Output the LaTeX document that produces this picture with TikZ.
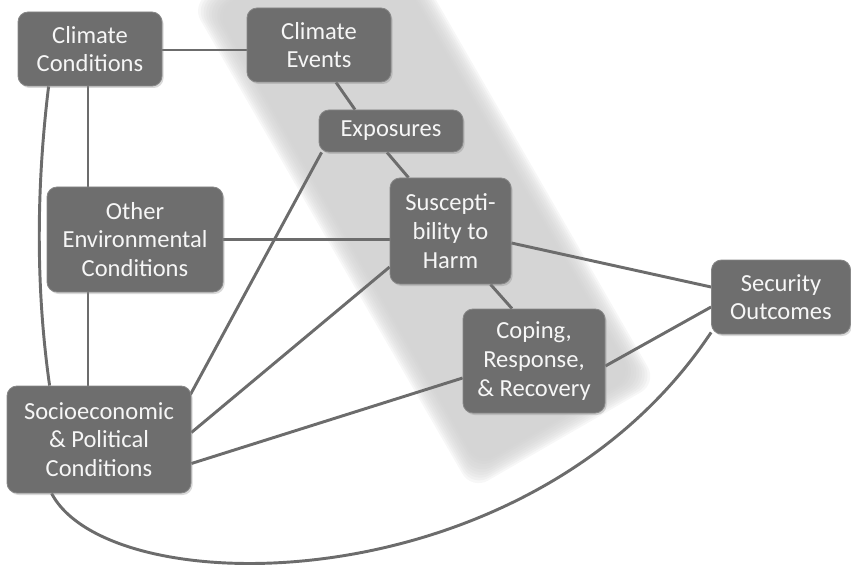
\documentclass[tikz,border=0pt]{standalone}
\usepackage{fontspec}
\setmainfont{Carlito}
\usetikzlibrary{calc,shadows}
\definecolor{boxfill}{RGB}{110,110,110}
\definecolor{boxdraw}{RGB}{135,135,135}
\definecolor{linec}{RGB}{108,108,108}
\definecolor{bandc}{RGB}{205,205,205}
\definecolor{txt}{RGB}{246,246,246}
\pgfdeclarelayer{bandlayer}
\pgfdeclarelayer{linelayer}
\pgfsetlayers{bandlayer,linelayer,main}
\begin{document}
\begin{tikzpicture}[x=0.75pt,y=-0.75pt,
  box/.style={rounded corners=7.5pt, fill=boxfill, draw=boxdraw, line width=0.6pt,
    text=txt, align=center, inner sep=0pt,
    font=\fontsize{18.4}{21.5}\selectfont,
    drop shadow={shadow xshift=1.2pt, shadow yshift=-1.5pt, opacity=0.3}},
  conn/.style={draw=linec, line width=2.2pt}]
\useasboundingbox (0,0) rectangle (851,567);

% nodes
\node[box, minimum width=108pt, minimum height=55.5pt] (cc) at (90,49) {Climate\\Conditions};
\node[box, minimum width=108pt, minimum height=55.5pt] (ce) at (319,45) {Climate\\Events};
\node[box, minimum width=108pt, minimum height=31.5pt] (ex) at (391,131) {Exposures};
\node[box, minimum width=132pt, minimum height=78.75pt] (oe) at (135,239.5) {Other\\Environmental\\Conditions};
\node[box, minimum width=90.75pt, minimum height=79.5pt] (su) at (450.5,231) {Suscepti-\\bility to\\Harm};
\node[box, minimum width=104.25pt, minimum height=55.5pt] (se) at (781,297) {Security\\Outcomes};
\node[box, minimum width=106.5pt, minimum height=78pt] (co) at (534,361) {Coping,\\Response,\\\& Recovery};
\node[box, minimum width=138pt, minimum height=80.25pt] (so) at (99,439.5) {Socioeconomic\\\& Political\\Conditions};

% band
\begin{pgfonlayer}{bandlayer}
\begin{scope}[shift={(563,428)}, rotate=30]
\foreach \i in {0,...,9}{
  \pgfmathsetmacro{\d}{-8+2*\i}
  \fill[bandc, opacity=0.17, rounded corners=14pt] (-102+\d,-545+\d) rectangle (96-\d,-\d);
}
\end{scope}
\end{pgfonlayer}

% connectors
\begin{pgfonlayer}{linelayer}
\draw[conn] ($(cc.east)+(0,1)$) -- ($(ce.west |- cc.east)+(0,1)$);
\draw[conn] ($(cc.south)+(-2,0)$) -- ($(cc.south |- oe.north)+(-2,0)$);
\draw[conn] ($(cc.south west)+(31,0)$) .. controls (36,190) and (36,290) .. ($(so.north west)+(43,0)$);
\draw[conn] ($(cc.south |- oe.south)+(-2,0)$) -- ($(cc.south |- so.north)+(-2,0)$);
\draw[conn] (oe.east) -- (su.west |- oe.east);
\draw[conn] ($(ce.south)+(17,0)$) -- ($(ex.north)+(-36,0)$);
\draw[conn] ($(ex.south)+(-4,0)$) -- ($(su.north)+(-42,0)$);
\draw[conn] ($(ex.south west)+(3,0)$) -- ($(so.north east)+(-1,9)$);
\draw[conn] ($(su.west)+(0,36)$) -- ($(so.east)+(0,-7)$);
\draw[conn] ($(co.west)+(0,17)$) -- ($(so.east)+(0,24)$);
\draw[conn] ($(su.east)+(0,12)$) -- ($(se.west)+(0,-10)$);
\draw[conn] ($(su.south)+(40,0)$) -- ($(co.north)+(-22,0)$);
\draw[conn] ($(co.east)+(0,5)$) -- ($(se.west)+(0,10)$);
\draw[conn] ($(so.south west)+(45,0)$) .. controls (110,605) and (530,605) .. ($(se.south west)+(0,-2)$);
\end{pgfonlayer}
\end{tikzpicture}
\end{document}
